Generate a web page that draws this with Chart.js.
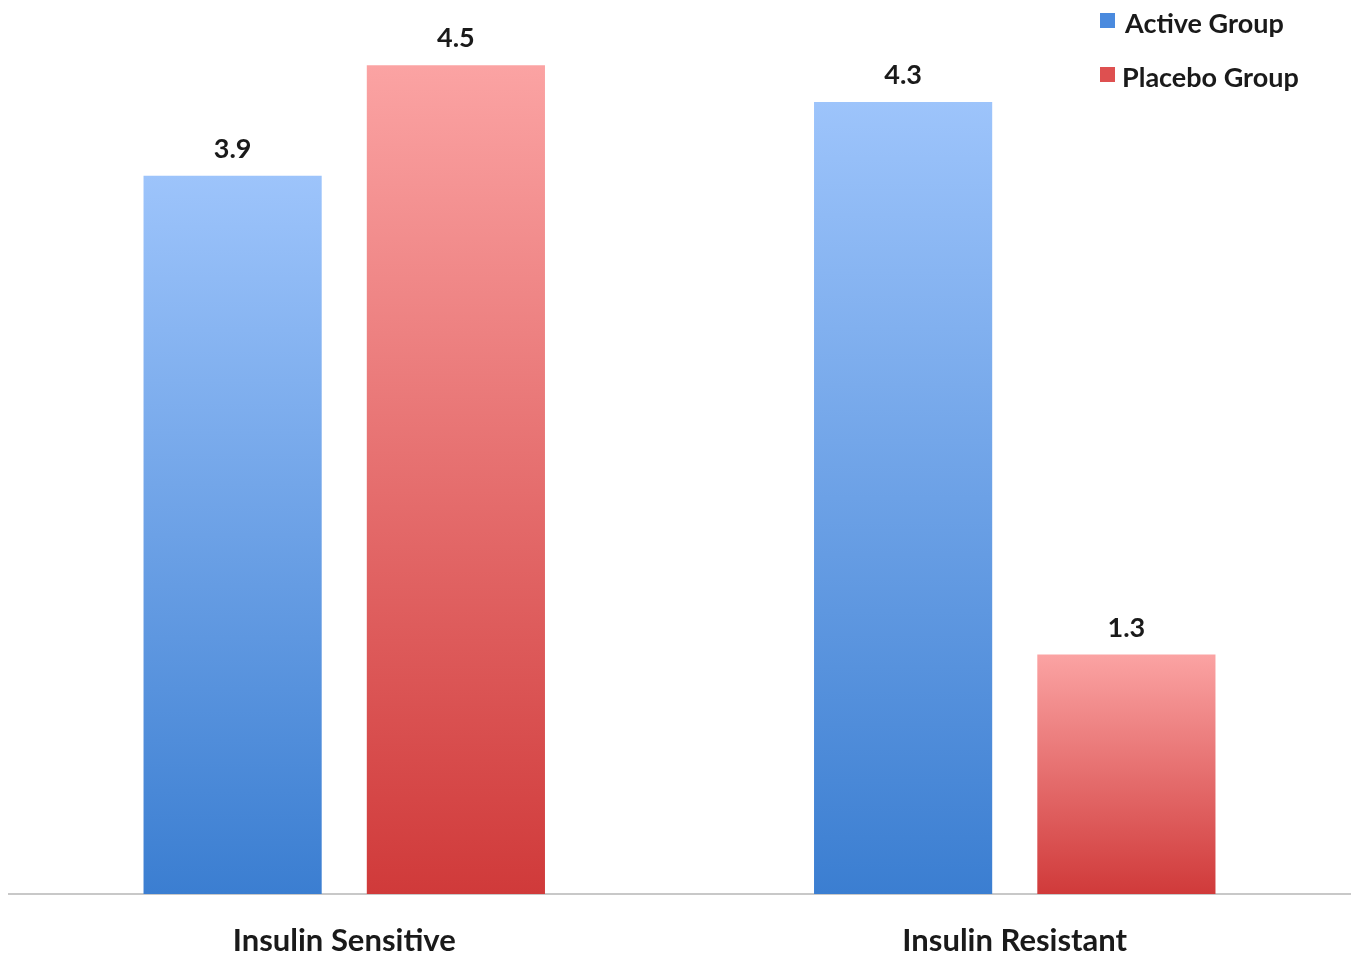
<!DOCTYPE html>
<html>
<head>
<meta charset="utf-8">
<script src="https://cdn.jsdelivr.net/npm/chart.js@4.4.0/dist/chart.umd.min.js"></script>
<style>
  html, body { margin: 0; padding: 0; background: #fff; }
  #wrap { width: 1357px; height: 958px; }
</style>
</head>
<body>
<div id="wrap"><canvas id="grafico" width="1357" height="958"></canvas></div>
<script>
// dados
const categorias = ["Insulin Sensitive", "Insulin Resistant"];
const grupoAtivo = [3.9, 4.3];
const grupoPlacebo = [4.5, 1.3];
const nomesSeries = ["Active Group", "Placebo Group"];

const FONTE = "Lato, 'Open Sans', sans-serif";

// cores do gradiente (topo -> base)
const coresAtivo = ["#9dc4fb", "#3b7ed1"];
const coresPlacebo = ["#fba3a3", "#d03a3a"];

// gradiente vertical por barra, do topo da barra até o zero
function gradiente(cores) {
    return function (context) {
        const chart = context.chart;
        if (!chart.chartArea || context.raw === undefined) return cores[1];
        const y = chart.scales.y;
        const topo = y.getPixelForValue(context.raw);
        const base = y.getPixelForValue(0);
        const g = chart.ctx.createLinearGradient(0, topo, 0, base);
        g.addColorStop(0, cores[0]);
        g.addColorStop(1, cores[1]);
        return g;
    };
}

// rótulos de valor em cima das barras
const rotulosValor = {
    id: "rotulosValor",
    afterDatasetsDraw(chart) {
        const ctx = chart.ctx;
        ctx.save();
        ctx.font = "bold 27px " + FONTE;
        ctx.fillStyle = "#1a1a1a";
        ctx.textAlign = "center";
        ctx.textBaseline = "alphabetic";
        chart.data.datasets.forEach((ds, i) => {
            chart.getDatasetMeta(i).data.forEach((bar, j) => {
                ctx.fillText(ds.data[j].toFixed(1), bar.x, bar.y - 18);
            });
        });
        ctx.restore();
    }
};

// legenda no canto superior direito
const legenda = {
    id: "legenda",
    afterDraw(chart) {
        const ctx = chart.ctx;
        ctx.save();
        ctx.font = "bold 27px " + FONTE;
        ctx.textBaseline = "middle";
        ctx.textAlign = "left";
        const itens = [
            { y: 21, cor: "#4a8ade", texto: nomesSeries[0], x: 1125 },
            { y: 75, cor: "#de5050", texto: nomesSeries[1], x: 1122 }
        ];
        itens.forEach(it => {
            ctx.fillStyle = it.cor;
            ctx.fillRect(1100, it.y - 8, 15, 15);
            ctx.fillStyle = "#1a1a1a";
            ctx.fillText(it.texto, it.x, it.y + 3);
        });
        ctx.restore();
    }
};

document.addEventListener("DOMContentLoaded", () => {
    const ctx = document.getElementById("grafico").getContext("2d");
    new Chart(ctx, {
        type: "bar",
        data: {
            labels: categorias,
            datasets: [
                {
                    label: nomesSeries[0],
                    data: grupoAtivo,
                    backgroundColor: gradiente(coresAtivo),
                    barPercentage: 0.798,
                    categoryPercentage: 0.666
                },
                {
                    label: nomesSeries[1],
                    data: grupoPlacebo,
                    backgroundColor: gradiente(coresPlacebo),
                    barPercentage: 0.798,
                    categoryPercentage: 0.666
                }
            ]
        },
        options: {
            responsive: false,
            animation: false,
            layout: { padding: { left: 9, right: 7, top: 10, bottom: 0 } },
            plugins: {
                legend: { display: false },
                tooltip: { enabled: false }
            },
            scales: {
                x: {
                    grid: { display: false, drawTicks: false },
                    border: { display: true, color: "#c8c8c8", width: 2 },
                    ticks: {
                        color: "#1a1a1a",
                        padding: 28,
                        font: { family: FONTE, size: 31, weight: "bold" }
                    },
                    afterFit(scale) {
                        scale.height = 64;
                    }
                },
                y: {
                    display: false,
                    min: 0,
                    max: 4.8
                }
            }
        },
        plugins: [rotulosValor, legenda]
    });
});
</script>
</body>
</html>
